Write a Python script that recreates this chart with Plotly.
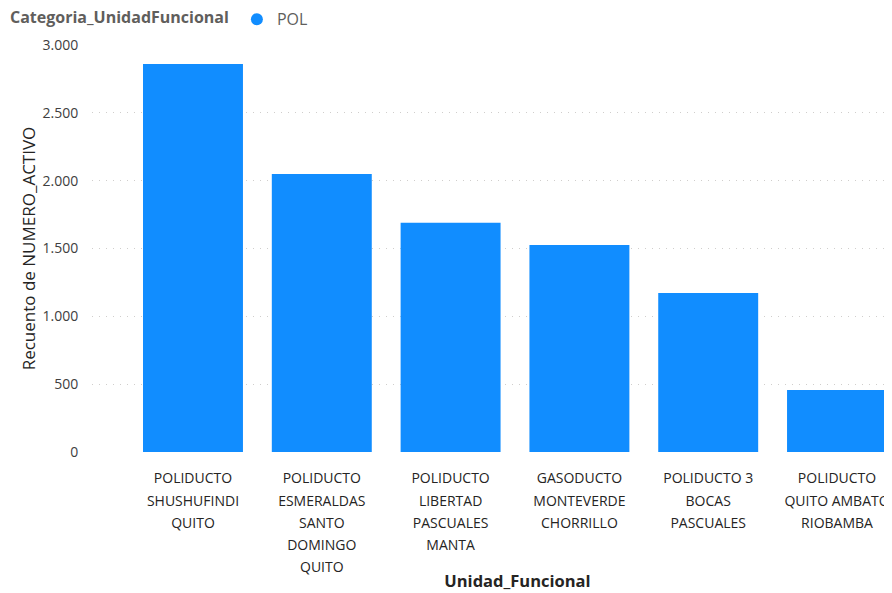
import plotly.graph_objects as go

categories = [
    "POLIDUCTO<br>SHUSHUFINDI<br>QUITO",
    "POLIDUCTO<br>ESMERALDAS<br>SANTO<br>DOMINGO<br>QUITO",
    "POLIDUCTO<br>LIBERTAD<br>PASCUALES<br>MANTA",
    "GASODUCTO<br>MONTEVERDE<br>CHORRILLO",
    "POLIDUCTO 3<br>BOCAS<br>PASCUALES",
    "POLIDUCTO<br>QUITO AMBATO<br>RIOBAMBA",
]
values = [2860, 2050, 1690, 1525, 1172, 457]
series_name = "POL"
legend_title = "Categoria_UnidadFuncional"
y_ticks = [0, 500, 1000, 1500, 2000, 2500, 3000]

BLUE = "#118DFF"
FONT = "Open Sans, Noto Sans, sans-serif"

tick_text = ['<span style="font-size:14px">' + c + '</span>' for c in categories]

fig = go.Figure()
fig.add_trace(go.Bar(
    x=categories, y=values, marker=dict(color=BLUE, line=dict(width=0)),
    width=0.776, showlegend=False, name=series_name,
))
fig.add_trace(go.Scatter(
    x=[None], y=[None], mode="markers", name=series_name,
    marker=dict(symbol="circle", color=BLUE, size=11),
))

fig.update_layout(
    width=892, height=593,
    margin=dict(l=84, r=0, t=37, b=149, autoexpand=False),
    paper_bgcolor="white", plot_bgcolor="white",
    separators=",.",
    font=dict(family=FONT, color="#252423", size=12),
    legend=dict(
        orientation="h", x=0.0, y=0.981, xanchor="left", yanchor="middle",
        xref="container", yref="container",
        title=dict(text="<b>" + legend_title + "</b>",
                   font=dict(size=16, color="#605E5C")),
        font=dict(size=16, color="#605E5C"), itemsizing="constant",
        tracegroupgap=0, bgcolor="rgba(0,0,0,0)",
    ),
    xaxis=dict(
        range=[-0.784, 5.489], showgrid=False, zeroline=False, showline=False,
        automargin=False,
        tickangle=0, tickfont=dict(size=17, color="#252423"),
        tickmode="array", tickvals=categories, ticktext=tick_text,
        ticks="outside", ticklen=10, tickcolor="rgba(0,0,0,0)",
        title=dict(text="&nbsp;" * 10 + "<b>Unidad_Funcional</b>",
                   font=dict(size=16.5, color="#252423"), standoff=0),
        fixedrange=True,
    ),
    yaxis=dict(
        range=[0, 3000], tickvals=y_ticks, tickformat=",d",
        automargin=False,
        showgrid=True, gridcolor="#D0CECC", griddash="1px,6px", gridwidth=1,
        zeroline=False, showline=False,
        tickfont=dict(size=14, color="#404040"),
        ticks="outside", ticklen=10, tickcolor="rgba(0,0,0,0)",
        title=dict(text="Recuento de NUMERO_ACTIVO", font=dict(size=17, color="#252423"),
                   standoff=2),
    ),
)
fig.write_html("out.html")
